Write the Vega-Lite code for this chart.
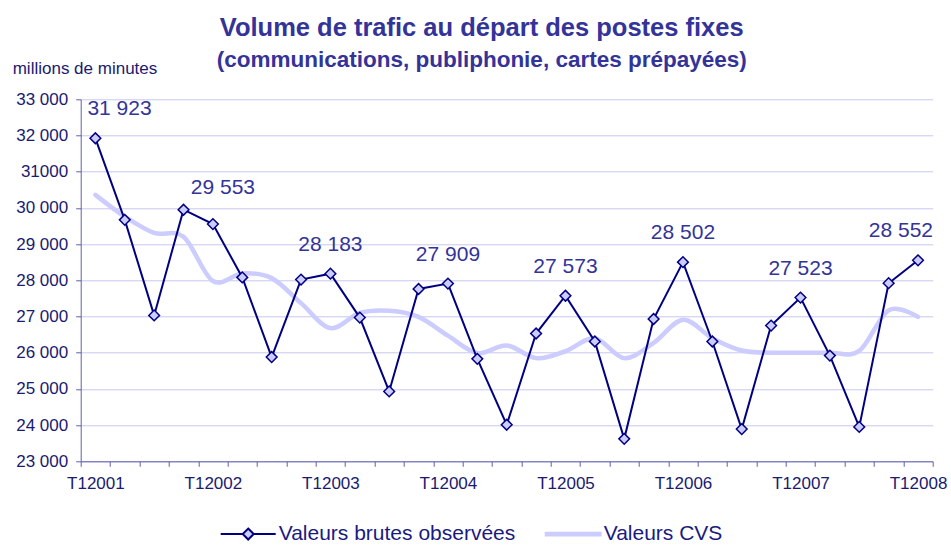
{
  "$schema": "https://vega.github.io/schema/vega-lite/v6.json",
  "width": 852,
  "height": 362,
  "autosize": {"type": "none"},
  "padding": {"left": 80.7, "top": 99.3, "right": 18.3, "bottom": 84.7},
  "background": "white",
  "config": {
    "font": "Liberation Sans",
    "view": {"stroke": null},
    "locale": {"number": {"decimal": ",", "thousands": " ", "grouping": [3], "currency": ["", " €"]}}
  },
  "title": {
    "text": "Volume de trafic au départ des postes fixes",
    "subtitle": "(communications, publiphonie, cartes prépayées)",
    "anchor": "middle",
    "dx": -25,
    "fontSize": 25.5,
    "fontWeight": "bold",
    "color": "#333399",
    "subtitleFontSize": 22.5,
    "subtitleFontWeight": "bold",
    "subtitleColor": "#333399",
    "subtitlePadding": 7,
    "offset": -12
  },
  "data": {
    "values": [
      {"q": "T12001", "b": 31923, "c": 30360},
      {"q": "T22001", "b": 29670, "c": 29760},
      {"q": "T32001", "b": 27030, "c": 29310},
      {"q": "T42001", "b": 29950, "c": 29200},
      {"q": "T12002", "b": 29553, "c": 27980},
      {"q": "T22002", "b": 28080, "c": 28190},
      {"q": "T32002", "b": 25880, "c": 28060},
      {"q": "T42002", "b": 28020, "c": 27370},
      {"q": "T12003", "b": 28183, "c": 26680},
      {"q": "T22003", "b": 26970, "c": 27100},
      {"q": "T32003", "b": 24930, "c": 27160},
      {"q": "T42003", "b": 27760, "c": 26990},
      {"q": "T12004", "b": 27909, "c": 26470},
      {"q": "T22004", "b": 25830, "c": 25990},
      {"q": "T32004", "b": 24010, "c": 26200},
      {"q": "T42004", "b": 26530, "c": 25850},
      {"q": "T12005", "b": 27573, "c": 26040},
      {"q": "T22005", "b": 26310, "c": 26400},
      {"q": "T32005", "b": 23620, "c": 25850},
      {"q": "T42005", "b": 26930, "c": 26270},
      {"q": "T12006", "b": 28502, "c": 26910},
      {"q": "T22006", "b": 26310, "c": 26400},
      {"q": "T32006", "b": 23890, "c": 26060},
      {"q": "T42006", "b": 26750, "c": 26000},
      {"q": "T12007", "b": 27523, "c": 26000},
      {"q": "T22007", "b": 25920, "c": 26000},
      {"q": "T32007", "b": 23950, "c": 26050},
      {"q": "T42007", "b": 27920, "c": 27170},
      {"q": "T12008", "b": 28552, "c": 26990}
    ]
  },
  "encoding": {
    "x": {
      "field": "q",
      "type": "ordinal",
      "sort": null,
      "scale": {"type": "band", "paddingInner": 0, "paddingOuter": 0},
      "axis": {
        "title": null,
        "tickBand": "extent",
        "labelAngle": 0,
        "labelExpr": "indexof(datum.label, 'T1') == 0 ? datum.label : ''",
        "labelFontSize": 17,
        "labelColor": "#1a1a70",
        "labelPadding": 9,
        "labelOverlap": false,
        "tickSize": 5,
        "tickColor": "#6060a8",
        "domainColor": "#6060a8",
        "grid": false
      }
    }
  },
  "layer": [
    {
      "mark": {"type": "line", "interpolate": "cardinal", "strokeWidth": 4.5, "strokeCap": "round"},
      "encoding": {
        "y": {
          "field": "c",
          "type": "quantitative",
          "scale": {"domain": [23000, 33000], "nice": false, "zero": false},
          "axis": {
            "values": [23000, 24000, 25000, 26000, 27000, 28000, 29000, 30000, 31000, 32000, 33000],
            "tickCount": 11,
            "format": ",d",
            "labelExpr": "datum.value == 31000 ? '31000' : replace(datum.label, ',', ' ')",
            "labelOverlap": false,
            "labelFontSize": 17,
            "labelColor": "#1a1a70",
            "labelPadding": 8,
            "tickSize": 5,
            "tickColor": "#6060a8",
            "domainColor": "#6060a8",
            "grid": true,
            "gridColor": "#c8c8f0",
            "gridWidth": 1,
            "title": "millions de minutes",
            "titleAngle": 0,
            "titleAlign": "left",
            "titleBaseline": "alphabetic",
            "titleX": -68.5,
            "titleY": -26,
            "titleFontSize": 17,
            "titleFontWeight": "normal",
            "titleColor": "#1a1a70"
          }
        },
        "color": {
          "datum": "Valeurs CVS",
          "scale": {"domain": ["Valeurs brutes observées", "Valeurs CVS"], "range": ["#000080", "#ccccff"]},
          "legend": {
            "title": null,
            "orient": "none",
            "direction": "horizontal",
            "legendX": 139,
            "legendY": 406,
            "symbolSize": 3025,
            "symbolStrokeWidth": 2,
            "labelFontSize": 21,
            "labelLimit": 400,
            "labelColor": "#1a1a80",
            "labelOffset": 2,
            "columnPadding": 26,
            "encode": {
              "symbols": {
                "update": {
                  "size": {"value": 3025},
                  "strokeWidth": {"value": 2},
                  "shape": {"signal": "datum.value == 'Valeurs CVS' ? 'M-1,-0.05H1V0.05H-1Z' : 'M-1,0H-0.2M0.2,0H1M0,-0.2L0.2,0L0,0.2L-0.2,0Z'"},
                  "fill": {"value": "#ccccff"},
                  "stroke": {"signal": "datum.value == 'Valeurs CVS' ? '#ccccff' : '#000080'"},
                  "opacity": {"value": 1}
                }
              }
            }
          }
        }
      }
    },
    {
      "mark": {"type": "line", "strokeWidth": 2},
      "encoding": {
        "y": {"field": "b", "type": "quantitative"},
        "color": {"datum": "Valeurs brutes observées"}
      }
    },
    {
      "mark": {"type": "point", "shape": "diamond", "filled": true, "fill": "#ccccff", "stroke": "#000080", "strokeWidth": 1.5, "size": 115, "opacity": 1},
      "encoding": {
        "y": {"field": "b", "type": "quantitative"}
      }
    },
    {
      "transform": [{"filter": "indexof(datum.q, 'T1') == 0 && datum.q != 'T12001' && datum.q != 'T12002' && datum.q != 'T12008'"}],
      "mark": {"type": "text", "dy": -29, "fontSize": 21, "color": "#333399", "baseline": "middle"},
      "encoding": {
        "y": {"field": "b", "type": "quantitative"},
        "text": {"field": "b", "type": "quantitative", "format": ",d"}
      }
    },
    {
      "transform": [{"filter": "datum.q == 'T12002'"}],
      "mark": {"type": "text", "dy": -36, "dx": 10, "fontSize": 21, "color": "#333399", "baseline": "middle"},
      "encoding": {
        "y": {"field": "b", "type": "quantitative"},
        "text": {"field": "b", "type": "quantitative", "format": ",d"}
      }
    },
    {
      "transform": [{"filter": "datum.q == 'T12001'"}],
      "mark": {"type": "text", "dy": -29, "dx": -8, "align": "left", "fontSize": 21, "color": "#333399", "baseline": "middle"},
      "encoding": {
        "y": {"field": "b", "type": "quantitative"},
        "text": {"field": "b", "type": "quantitative", "format": ",d"}
      }
    },
    {
      "transform": [{"filter": "datum.q == 'T12008'"}],
      "mark": {"type": "text", "dy": -29, "dx": 15, "align": "right", "fontSize": 21, "color": "#333399", "baseline": "middle"},
      "encoding": {
        "y": {"field": "b", "type": "quantitative"},
        "text": {"field": "b", "type": "quantitative", "format": ",d"}
      }
    }
  ]
}
